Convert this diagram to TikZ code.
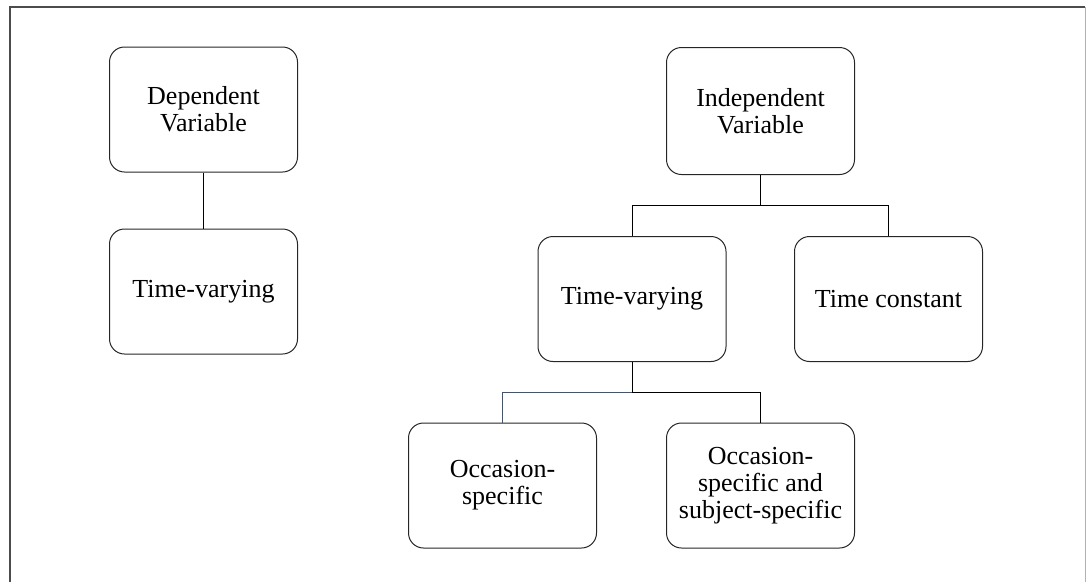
\documentclass[tikz,border=0pt]{standalone}
\usepackage{fontspec}
\setmainfont{Liberation Serif}
\usepackage{tikz}
\usetikzlibrary{calc}

\definecolor{slate}{RGB}{68,84,106}
\tikzset{
  varbox/.style={draw=black!85, line width=1pt, rounded corners=15pt,
    minimum width=188pt, minimum height=125pt, inner sep=0pt, align=center,
    font=\fontsize{26}{27}\selectfont},
  link/.style={draw=black, line width=1pt},
  bluelink/.style={draw=slate, line width=1pt}
}

\begin{document}
\begin{tikzpicture}[x=1pt,y=-1pt]
  \useasboundingbox (0,0) rectangle (1086,582);
  % frame
  \draw [black!70, line width=1.2pt](10,582)--(10,7)--(1085,7);
  \draw [black!30, line width=1pt](1085,7)--(1085,582);
  % left tree
  \node [varbox] (dep) at (203.5,109.5) {Dependent\\Variable};
  \node [varbox] (tvL) at (203.5,291.5) {Time-varying};
  \draw [link](dep)--(tvL);
  % right tree
  \node [varbox, minimum height=127pt] (indep) at (760.5,111) {Independent\\Variable};
  \node [varbox] (tvM) at (632,299) {Time-varying};
  \node [varbox] (tc) at (888.5,299) {Time constant};
  \node [varbox] (occ) at (502.5,485.5) {Occasion-\\specific};
  \node [varbox] (occsub) at (760.5,485.5) {Occasion-\\specific and\\subject-specific};
  \coordinate (J1) at ($(indep.south)+(0,30)$);
  \coordinate (J2) at ($(tvM.south)+(0,30)$);
  \draw [link](indep.south)--(J1);
  \foreach\P in {tvM,tc} \draw[link](J1)-|(\P.north);
  \draw [link](tvM.south)--(J2)-|(occsub.north);
  \draw [bluelink](J2)-|(occ.north);
\end{tikzpicture}
\end{document}
